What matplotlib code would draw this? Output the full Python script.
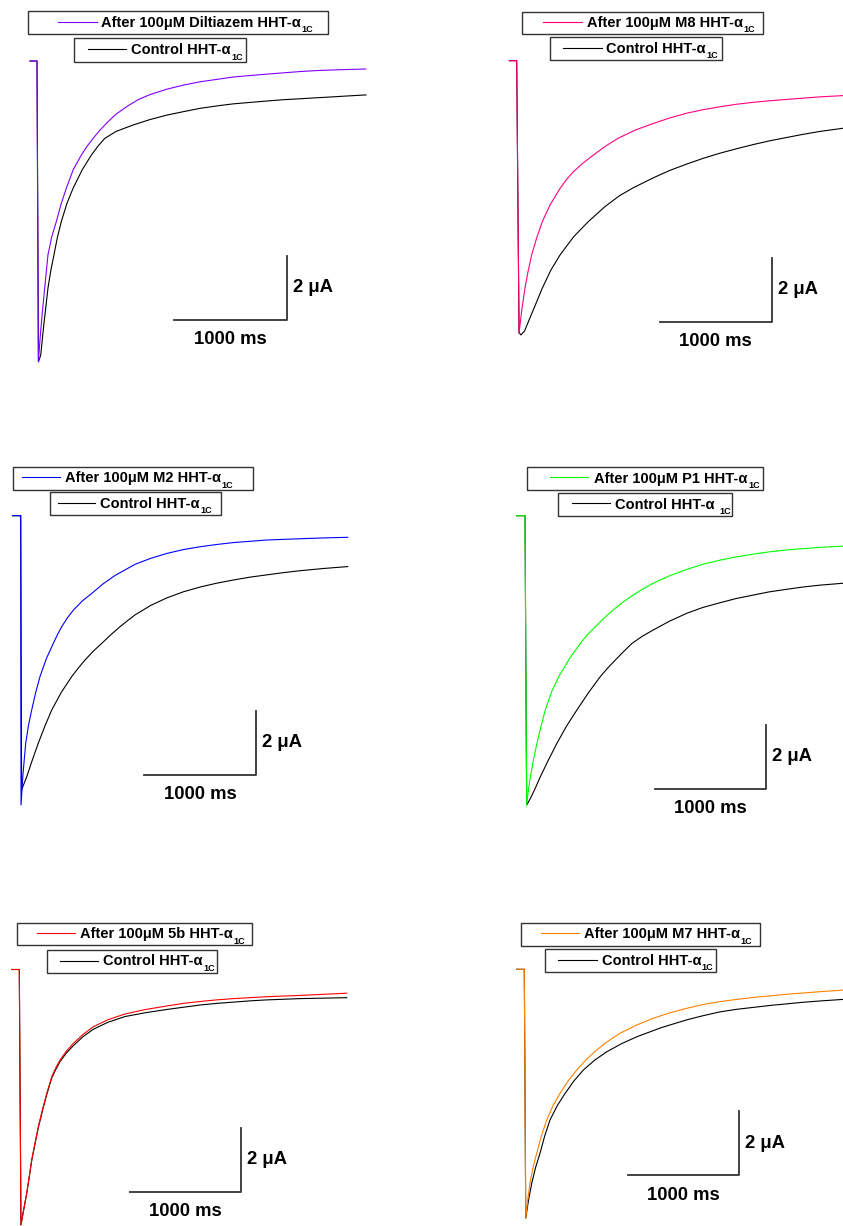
import matplotlib.pyplot as plt
from matplotlib.patches import Rectangle

plt.rcParams['font.family'] = ['Liberation Sans', 'DejaVu Sans']

# --- current traces (time in ms, current in uA) ---
t_dil = [-62, 0, 12, 30, 50, 68, 97, 130, 171, 215, 259, 320, 392, 440, 496, 560, 628, 700, 805, 900,
         1000, 1150, 1300, 1442, 1600, 1737, 1900, 2035, 2180, 2327, 2470, 2620, 2760, 2910]
i_dil = [0, 0, -9.40, -8.55, -7.75, -7.10, -6.06, -5.50, -5.02, -4.45, -3.98, -3.40, -2.94, -2.68, -2.42,
         -2.15, -1.90, -1.66, -1.40, -1.20, -1.05, -0.88, -0.75, -0.65, -0.57, -0.50, -0.45, -0.41, -0.37,
         -0.33, -0.30, -0.28, -0.265, -0.25]
t_dil_ctl = [-62, 0, 13, 33, 60, 97, 122, 150, 180, 215, 265, 319, 400, 481, 540, 599, 700, 850, 1000,
             1150, 1300, 1442, 1600, 1735, 1900, 2035, 2180, 2327, 2470, 2619, 2760, 2912]
i_dil_ctl = [0, 0, -9.40, -9.19, -8.25, -7.10, -6.55, -6.06, -5.52, -5.02, -4.45, -3.98, -3.40, -2.94,
             -2.66, -2.42, -2.20, -2.00, -1.83, -1.69, -1.58, -1.48, -1.40, -1.34, -1.29, -1.25, -1.21,
             -1.18, -1.15, -1.12, -1.09, -1.06]

t_m8 = [-66, 0, 21, 45, 74, 102, 134, 178, 229, 300, 388, 445, 507, 590, 686, 795, 910, 1060, 1223, 1370,
        1522, 1670, 1820, 1970, 2118, 2270, 2417, 2565, 2715, 2820, 2924]
i_m8 = [0, 0, -8.52, -7.80, -7.11, -6.58, -6.07, -5.55, -5.03, -4.50, -3.99, -3.72, -3.47, -3.21, -2.95,
        -2.67, -2.42, -2.17, -1.96, -1.79, -1.64, -1.53, -1.44, -1.36, -1.30, -1.25, -1.21, -1.17, -1.13,
        -1.11, -1.09]
t_m8_ctl = [-66, 0, 21, 38, 70, 104, 165, 229, 305, 388, 510, 641, 790, 920, 1044, 1223, 1370, 1522, 1670,
            1820, 1970, 2118, 2270, 2417, 2565, 2715, 2924]
i_m8_ctl = [0, 0, -8.50, -8.57, -8.45, -8.16, -7.65, -7.11, -6.55, -6.07, -5.50, -5.03, -4.56, -4.22,
            -3.97, -3.66, -3.43, -3.23, -3.05, -2.89, -2.75, -2.62, -2.50, -2.40, -2.30, -2.21, -2.11]

t_m2 = [-72, 0, 3, 20, 45, 70, 99, 135, 173, 230, 293, 330, 368, 420, 473, 555, 638, 740, 847, 1027, 1170,
        1312, 1460, 1611, 1760, 1910, 2060, 2210, 2360, 2509, 2720, 2938]
i_m2 = [0, 0, -9.04, -8.10, -7.11, -6.55, -6.07, -5.52, -5.03, -4.47, -3.99, -3.72, -3.47, -3.19, -2.95,
        -2.66, -2.43, -2.13, -1.87, -1.52, -1.33, -1.18, -1.06, -0.97, -0.90, -0.84, -0.80, -0.76, -0.74,
        -0.72, -0.695, -0.675]
t_m2_ctl = [-72, 0, 8, 30, 54, 105, 158, 218, 279, 365, 458, 518, 578, 650, 728, 810, 892, 960, 1027,
            1170, 1312, 1460, 1611, 1760, 1910, 2060, 2210, 2360, 2509, 2720, 2938]
i_m2_ctl = [0, 0, -8.57, -8.37, -8.16, -7.63, -7.11, -6.57, -6.07, -5.52, -5.03, -4.76, -4.51, -4.24,
            -3.99, -3.72, -3.47, -3.28, -3.10, -2.80, -2.57, -2.38, -2.23, -2.11, -2.01, -1.92, -1.85,
            -1.78, -1.72, -1.65, -1.59]

t_p1 = [-75, 0, 15, 30, 48, 78, 108, 145, 183, 240, 304, 400, 498, 565, 633, 715, 799, 890, 979, 1065,
        1156, 1300, 1457, 1600, 1757, 1900, 2057, 2200, 2358, 2500, 2658, 2868]
i_p1 = [0, 0, -9.04, -8.60, -8.16, -7.60, -7.11, -6.57, -6.07, -5.50, -5.03, -4.47, -3.99, -3.71, -3.47,
        -3.19, -2.93, -2.68, -2.47, -2.28, -2.11, -1.88, -1.68, -1.52, -1.39, -1.29, -1.20, -1.13, -1.07,
        -1.03, -0.99, -0.95]
t_p1_ctl = [-75, 0, 15, 35, 57, 97, 138, 210, 288, 375, 468, 570, 678, 745, 814, 890, 964, 1060, 1156,
            1300, 1457, 1600, 1757, 1900, 2057, 2200, 2358, 2500, 2658, 2868]
i_p1_ctl = [0, 0, -9.04, -8.92, -8.78, -8.48, -8.16, -7.64, -7.11, -6.57, -6.07, -5.54, -5.03, -4.76,
            -4.51, -4.24, -3.99, -3.76, -3.57, -3.30, -3.05, -2.87, -2.72, -2.59, -2.48, -2.38, -2.30,
            -2.23, -2.17, -2.11]

t_5b = [-69, 0, 15, 40, 67, 90, 112, 142, 172, 210, 248, 293, 330, 368, 425, 488, 575, 668, 800, 955, 1140,
        1332, 1480, 1632, 1780, 1933, 2085, 2235, 2385, 2536, 2750, 2958]
i_5b = [0, 0, -7.98, -7.50, -6.99, -6.47, -5.95, -5.42, -4.91, -4.37, -3.87, -3.35, -3.07, -2.83, -2.55,
        -2.31, -2.03, -1.79, -1.57, -1.39, -1.25, -1.14, -1.06, -1.00, -0.95, -0.91, -0.88, -0.85, -0.83,
        -0.81, -0.775, -0.74]
t_5b_ctl = [-69, 0, 15, 40, 67, 90, 112, 142, 172, 210, 248, 293, 330, 368, 425, 488, 575, 668, 800, 955,
            1140, 1332, 1480, 1632, 1780, 1933, 2085, 2235, 2385, 2536, 2750, 2958]
i_5b_ctl = [0, 0, -7.98, -7.50, -7.00, -6.48, -5.97, -5.45, -4.94, -4.40, -3.91, -3.39, -3.12, -2.88,
            -2.61, -2.38, -2.10, -1.87, -1.65, -1.47, -1.35, -1.25, -1.18, -1.11, -1.06, -1.02, -0.98,
            -0.95, -0.93, -0.91, -0.895, -0.88]

t_m7 = [-69, 0, 13, 30, 51, 80, 112, 155, 202, 260, 322, 395, 473, 560, 654, 755, 864, 1010, 1165, 1315,
        1467, 1615, 1768, 1920, 2069, 2220, 2370, 2520, 2670, 2882]
i_m7 = [0, 0, -7.78, -7.22, -6.69, -6.18, -5.75, -5.20, -4.71, -4.26, -3.88, -3.49, -3.15, -2.82, -2.52,
        -2.25, -2.00, -1.75, -1.53, -1.36, -1.22, -1.10, -1.01, -0.94, -0.88, -0.83, -0.78, -0.74, -0.70,
        -0.65]
t_m7_ctl = [-69, 0, 13, 38, 67, 103, 142, 185, 232, 298, 368, 448, 533, 635, 744, 875, 1015, 1240, 1467,
            1615, 1768, 1920, 2069, 2220, 2370, 2520, 2670, 2882]
i_m7_ctl = [0, 0, -7.78, -7.22, -6.69, -6.18, -5.75, -5.20, -4.71, -4.26, -3.88, -3.49, -3.15, -2.84,
            -2.58, -2.33, -2.11, -1.82, -1.58, -1.45, -1.33, -1.25, -1.19, -1.13, -1.08, -1.03, -0.99,
            -0.94]

drugs = ['Diltiazem', 'M8', 'M2', 'P1', '5b', 'M7']
colors = ['#8000ff', '#ff0080', '#0000ff', '#00ff00', '#ff0000', '#ff8000']
traces = [(t_dil, i_dil, t_dil_ctl, i_dil_ctl),
          (t_m8, i_m8, t_m8_ctl, i_m8_ctl),
          (t_m2, i_m2, t_m2_ctl, i_m2_ctl),
          (t_p1, i_p1, t_p1_ctl, i_p1_ctl),
          (t_5b, i_5b, t_5b_ctl, i_5b_ctl),
          (t_m7, i_m7, t_m7_ctl, i_m7_ctl)]
# scale bar corner (ms, uA) for each panel
bar_t = [2212, 2283, 2111, 2171, 2000, 1939]
bar_i = [-8.09, -8.16, -8.10, -8.54, -6.94, -6.43]

# panel placement in pixels: zero-time x, zero-current y, px per ms
W, H = 843, 1226
PX_PER_UA = 32
origin = [(37, 61, 0.113), (516.7, 60.7, 0.1117), (20.7, 515.7, 0.1113),
          (525, 515.7, 0.111), (19.3, 969.5, 0.1107), (524.3, 969.3, 0.1107)]
# legend boxes: box (x0, y0, x1, y1), line (x0, x1, y), text x, subscript gap
leg_drug = [((27.7, 11, 327.7, 34.3), (58, 97, 21.7), 101, 0.5),
            ((522.3, 11.7, 763.3, 34), (543.3, 581.7, 21.7), 586.7, 0.5),
            ((13.3, 466.7, 252.7, 490), (21.7, 60, 476.7), 65, 0.5),
            ((527.3, 467.3, 763.3, 490), (550, 588.3, 477.3), 594, 0.5),
            ((17.3, 922.7, 252.3, 945.3), (37.3, 75.3, 932.7), 80, 0.5),
            ((521, 922.7, 760, 945.7), (541, 579.3, 932.7), 584, 0.5)]
leg_ctl = [((73.7, 38.3, 245.7, 61.7), (87.7, 126, 49.3), 131, 0.5),
           ((550, 37.3, 721.7, 60.3), (563.3, 601.7, 47.7), 606, 0.5),
           ((50, 492.3, 220.7, 515.3), (57.7, 95, 502.7), 100, 0.5),
           ((557.7, 493.3, 732.3, 516), (571.7, 610, 503.3), 615, 3.5),
           ((46.7, 950, 217.3, 972.7), (60, 98.3, 960.7), 103.3, 0.5),
           ((545.3, 949.3, 716, 972.3), (558.3, 596.7, 960), 601.7, 0.5)]

fig = plt.figure(figsize=(W / 100, H / 100), dpi=100)
lay = fig.add_axes([0, 0, 1, 1])
lay.set_xlim(0, W)
lay.set_ylim(H, 0)
lay.axis('off')


def legend_box(box, line, tx, gap, color, label):
    x0, y0, x1, y1 = box
    lay.add_patch(Rectangle((x0, y0), x1 - x0, y1 - y0, fill=False, ec='#333333', lw=1.0))
    lay.plot([line[0], line[1]], [line[2], line[2]], color=color, lw=0.8)
    txt = lay.text(tx, (y0 + y1) / 2, label, ha='left', va='center',
                   fontsize=10.5, fontweight='bold')
    lay.annotate('1C', xy=(1, 0), xycoords=txt, xytext=(gap, 0), textcoords='offset points',
                 ha='left', va='center', fontsize=6.5, fontweight='bold')


for k in range(6):
    x0, y0, sx = origin[k]
    ax = fig.add_axes([0, 0, 1, 1], facecolor='none')
    ax.axis('off')
    ax.set_xlim(-x0 / sx, (W - x0) / sx)
    ax.set_ylim(-(H - y0) / PX_PER_UA, y0 / PX_PER_UA)

    t, i, tc, ic = traces[k]
    ax.plot(tc, ic, color='black', lw=0.8)
    ax.plot(t, i, color=colors[k], lw=0.8)

    # scale bars: 1000 ms and 2 uA
    ct, ci = bar_t[k], bar_i[k]
    ax.plot([ct - 1000, ct, ct], [ci, ci, ci + 2], color='#333333', lw=1.3)
    ax.annotate('2 μA', xy=(ct, ci + 1), xytext=(6, 0), textcoords='offset pixels',
                ha='left', va='center', fontsize=13.3, fontweight='bold')
    ax.annotate('1000 ms', xy=(ct - 500, ci), xytext=(0, -20), textcoords='offset pixels',
                ha='center', va='center', fontsize=13.3, fontweight='bold')

    legend_box(*leg_drug[k], colors[k], f'After 100μM {drugs[k]} HHT-α')
    legend_box(*leg_ctl[k], 'black', 'Control HHT-α')

fig.savefig('out.png', dpi=100)
